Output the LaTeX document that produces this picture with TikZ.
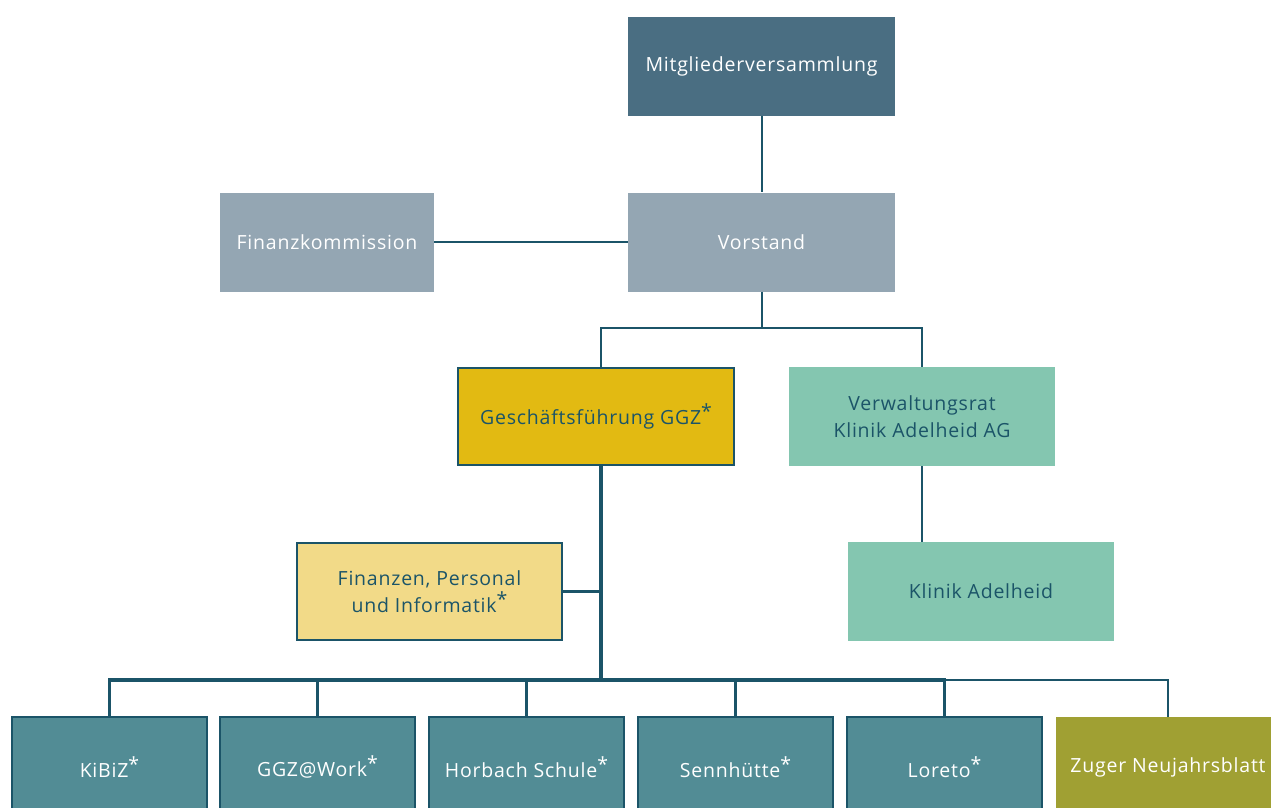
\documentclass[tikz,border=0pt]{standalone}
\usepackage{fontspec}
\setmainfont{Open Sans}
\usepackage{tikz}

\definecolor{mvblue}{HTML}{4A6E82}
\definecolor{grayblue}{HTML}{94A6B3}
\definecolor{ggzyellow}{HTML}{E2BA12}
\definecolor{lightyellow}{HTML}{F2DA88}
\definecolor{mint}{HTML}{84C6B0}
\definecolor{tealbox}{HTML}{528C95}
\definecolor{olive}{HTML}{A0A033}
\definecolor{linecol}{HTML}{1B5468}

\newcommand{\stern}{\raisebox{0.3em}{*}}

\tikzset{
  orgbox/.style={rectangle, inner sep=0pt, align=center, font=\fontsize{19.5}{27}\selectfont\addfontfeature{LetterSpace=4}},
  lightbox/.style={orgbox, text=white},
  darkbox/.style={orgbox, text=linecol},
  edgebox/.style={draw=linecol, line width=1.5pt},
  thinline/.style={linecol, line width=2pt},
  thickline/.style={linecol, line width=3.5pt}
}

\begin{document}
\begin{tikzpicture}[x=1pt,y=-1pt]
\useasboundingbox[fill=white] (0,0) rectangle (1271,808);

% top levels
\node[lightbox, fill=mvblue, minimum width=267pt, minimum height=99pt] (mv) at (761.5,66.5) {Mitgliederversammlung};
\node[lightbox, fill=grayblue, minimum width=267pt, minimum height=99pt] (vorstand) at (761.5,242) {Vorstand};
\node[lightbox, fill=grayblue, minimum width=214pt, minimum height=99pt] (fiko) at (327,242) {Finanzkommission};

\node[darkbox, edgebox, fill=ggzyellow, minimum width=276pt, minimum height=97pt] (ggz) at (596,416.5) {Geschäftsführung GGZ\stern};
\node[darkbox, fill=mint, minimum width=266pt, minimum height=99pt] (vr) at (922,416.5) {Verwaltungsrat\\Klinik Adelheid AG};
\node[darkbox, fill=mint, minimum width=266pt, minimum height=99pt] (klinik) at (981,591.5) {Klinik Adelheid};
\node[darkbox, edgebox, fill=lightyellow, minimum width=265pt, minimum height=97pt] (fpi) at (429.5,591.5) {Finanzen, Personal\\und Informatik\stern};

% bottom row
\node[lightbox, edgebox, fill=tealbox, minimum width=195pt, minimum height=100pt] (kibiz) at (109.5,767) {KiBiZ\stern};
\node[lightbox, edgebox, fill=tealbox, minimum width=195pt, minimum height=100pt] (work) at (317.5,767) {GGZ@Work\stern};
\node[lightbox, edgebox, fill=tealbox, minimum width=195pt, minimum height=100pt] (horbach) at (526.5,767) {Horbach Schule\stern};
\node[lightbox, edgebox, fill=tealbox, minimum width=195pt, minimum height=100pt] (senn) at (735.5,767) {Sennhütte\stern};
\node[lightbox, edgebox, fill=tealbox, minimum width=195pt, minimum height=100pt] (loreto) at (944.5,767) {Loreto\stern};
\node[lightbox, fill=olive, minimum width=224pt, minimum height=100pt] (zuger) at (1168,767) {Zuger Neujahrsblatt};

\coordinate (vbus) at (761.5,328);
\coordinate (gbus) at (601,680);

\draw[thinline] (mv) -- (vorstand);
\draw[thinline] (fiko) -- (vorstand);
\draw[thinline] (vorstand) -- (vbus);
\draw[thinline] (ggz.north -| gbus) |- (vbus) -| (vr);
\draw[thinline] (klinik.north -| vr) -- (vr);

\draw[thickline] (ggz.south -| gbus) -- (gbus);
\draw[thickline] (fpi) -- (fpi -| gbus);
\draw[thickline] (kibiz) |- (gbus) -| (loreto.north);
\draw[thickline] (work.north) -- (work |- gbus);
\draw[thickline] (horbach.north) -- (horbach |- gbus);
\draw[thickline] (senn.north) -- (senn |- gbus);
\draw[thinline] (loreto |- gbus) -| (zuger);
\end{tikzpicture}
\end{document}
